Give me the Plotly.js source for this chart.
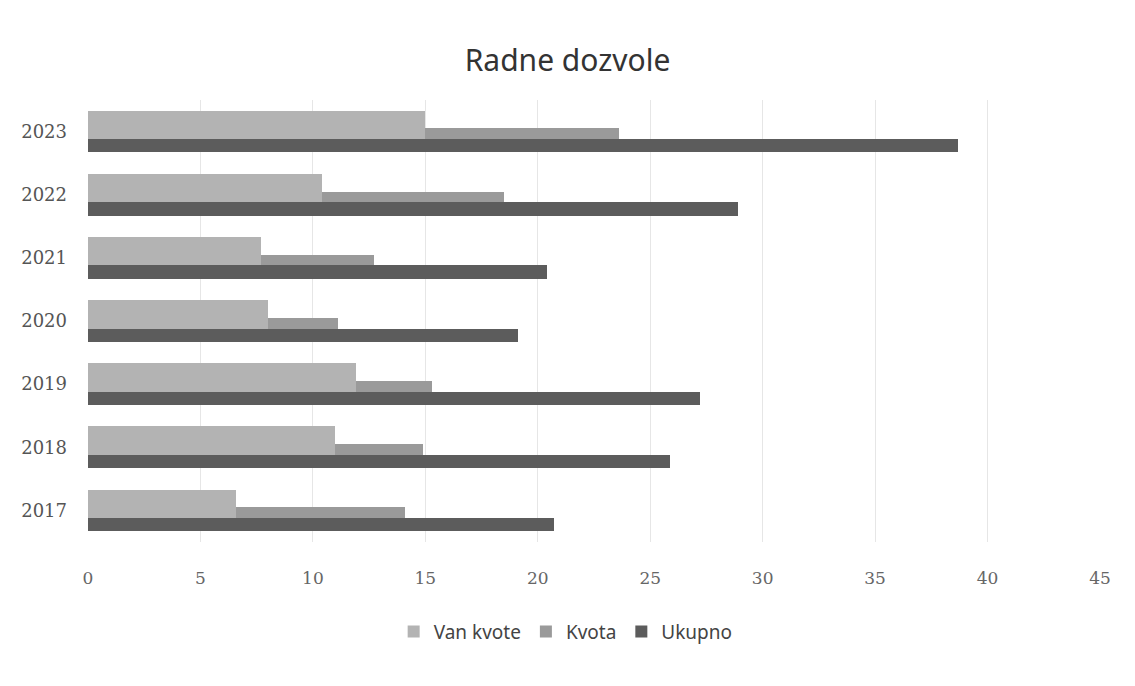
<!DOCTYPE html>
<html>
<head>
<meta charset="utf-8">
<script src="https://cdn.plot.ly/plotly-3.0.1.min.js"></script>
<style>html,body{margin:0;padding:0;background:#fff;}#chart{width:1135px;height:686px;}</style>
</head>
<body>
<div id="chart"></div>
<script>
const years = ["2017", "2018", "2019", "2020", "2021", "2022", "2023"];
const vanKvote = [6.6, 11.0, 11.9, 8.0, 7.7, 10.4, 15.0];
const kvota = [14.1, 14.9, 15.3, 11.1, 12.7, 18.5, 23.6];
const ukupno = [20.7, 25.9, 27.2, 19.1, 20.4, 28.9, 38.7];
const xTicks = [0, 5, 10, 15, 20, 25, 30, 35, 40, 45];

const traces = [
  {type: "bar", orientation: "h", name: "Kvota", x: kvota, y: years,
   offset: -0.33, width: 0.38, marker: {color: "#9a9a9a"}, legendrank: 2},
  {type: "bar", orientation: "h", name: "Van kvote", x: vanKvote, y: years,
   offset: -0.33, width: 0.66, marker: {color: "#b3b3b3"}, legendrank: 1},
  {type: "bar", orientation: "h", name: "Ukupno", x: ukupno, y: years,
   offset: -0.33, width: 0.21, marker: {color: "#5c5c5c"}, legendrank: 3}
];

const layout = {
  width: 1135, height: 686,
  paper_bgcolor: "#ffffff", plot_bgcolor: "#ffffff",
  margin: {l: 88, r: 35, t: 100, b: 144},
  barmode: "overlay",
  showlegend: true,
  title: {text: "Radne dozvole", x: 0.5, xanchor: "center", y: 0.912, yanchor: "middle",
          font: {family: "Noto Sans, sans-serif", size: 30, color: "#333333"}},
  xaxis: {range: [0, 45], tickvals: xTicks, ticktext: xTicks.map(String),
          showgrid: true, gridcolor: "#e6e6e6", gridwidth: 1, zeroline: false,
          showline: false, ticks: "", ticklabelstandoff: 24,
          tickfont: {family: "DejaVu Serif, serif", size: 17, color: "#666666"}},
  yaxis: {type: "category", categoryorder: "array", categoryarray: years,
          range: [-0.5, 6.5], showgrid: false, zeroline: false, showline: false,
          ticks: "", ticklabelstandoff: 20,
          tickfont: {family: "DejaVu Serif, serif", size: 18, color: "#555555"}},
  legend: {orientation: "h", x: 0.472, xanchor: "center", y: -0.16, yanchor: "top",
           traceorder: "normal", itemwidth: 30, tracegroupgap: 0,
           font: {family: "Noto Sans, sans-serif", size: 19, color: "#444444"}},
  bargap: 0
};

Plotly.newPlot("chart", traces, layout, {displayModeBar: false, staticPlot: true});
</script>
</body>
</html>
